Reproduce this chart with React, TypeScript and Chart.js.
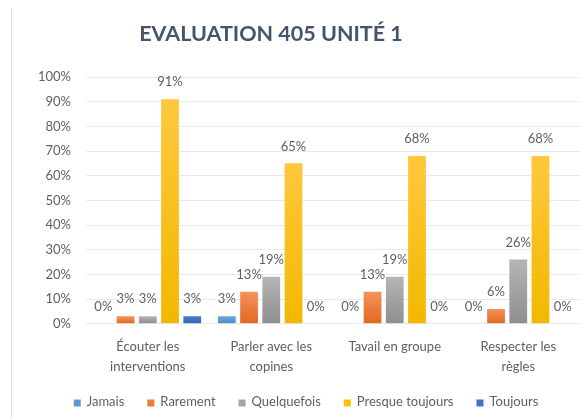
import React, { useEffect, useRef } from "react";
import { Chart, registerables } from "chart.js";

Chart.register(...registerables);

const titleText = "EVALUATION 405 UNITÉ 1";
const categories: (string | string[])[] = [
  ["Écouter les", "interventions"],
  ["Parler avec les", "copines"],
  "Tavail en groupe",
  ["Respecter les", "règles"],
];
const seriesNames = ["Jamais", "Rarement", "Quelquefois", "Presque toujours", "Toujours"];
const jamais = [0, 3, 0, 0];
const rarement = [3, 13, 13, 6];
const quelquefois = [3, 19, 19, 26];
const presqueToujours = [91, 65, 68, 68];
const toujours = [3, 0, 0, 0];
const yTickValues = [0, 10, 20, 30, 40, 50, 60, 70, 80, 90, 100];

const seriesValues = [jamais, rarement, quelquefois, presqueToujours, toujours];
const seriesColors = [
  { top: "#6AA6DE", bottom: "#4A8CCB", solid: "#5B9BD5" },
  { top: "#F4935C", bottom: "#E2681F", solid: "#ED7D31" },
  { top: "#B5B5B5", bottom: "#8E8E8E", solid: "#A5A5A5" },
  { top: "#FFC83C", bottom: "#F2B800", solid: "#FFC000" },
  { top: "#4F7DCC", bottom: "#3661B2", solid: "#4472C4" },
];

const FONT = "Lato, 'Open Sans', 'DejaVu Sans', sans-serif";
const TEXT = "#5B5F66";

const labelsPlugin = {
  id: "valueLabels",
  afterDatasetsDraw(chart: any) {
    const ctx = chart.ctx;
    ctx.save();
    ctx.font = `13px ${FONT}`;
    ctx.fillStyle = TEXT;
    ctx.textAlign = "center";
    ctx.textBaseline = "middle";
    chart.data.datasets.forEach((ds: any, i: number) => {
      const meta = chart.getDatasetMeta(i);
      meta.data.forEach((el: any, j: number) => {
        ctx.fillText(`${ds.data[j]}%`, el.x, el.y - 17);
      });
    });
    ctx.restore();
  },
};

const decorPlugin = {
  id: "decor",
  afterDraw(chart: any) {
    const ctx = chart.ctx;
    ctx.save();
    // title
    ctx.font = `bold 21.5px ${FONT}`;
    ctx.fillStyle = "#44546A";
    ctx.textAlign = "center";
    ctx.textBaseline = "middle";
    ctx.fillText(titleText, 271, 34);
    // legend
    ctx.font = `13px ${FONT}`;
    const box = 7;
    const gap = 6;
    const spacing = 23;
    const widths = seriesNames.map((n) => box + gap + ctx.measureText(n).width);
    const total = widths.reduce((a, b) => a + b, 0) + spacing * (widths.length - 1);
    let x = 306 - total / 2;
    const y = 402;
    ctx.textAlign = "left";
    seriesNames.forEach((n, i) => {
      ctx.fillStyle = seriesColors[i].solid;
      ctx.fillRect(x, y - box / 2 + 1, box, box);
      ctx.fillStyle = TEXT;
      ctx.fillText(n, x + box + gap, y);
      x += widths[i] + spacing;
    });
    ctx.restore();
  },
};

export default function App() {
  const ref = useRef<HTMLCanvasElement>(null);
  useEffect(() => {
    if (!ref.current) return;
    const chart = new Chart(ref.current, {
      type: "bar",
      data: {
        labels: categories,
        datasets: seriesNames.map((name, i) => ({
          label: name,
          data: seriesValues[i],
          backgroundColor: (c: any) => {
            const ch = c.chart;
            const ys = ch.scales?.y;
            const v = c.raw;
            if (!ys || typeof v !== "number" || !ch.chartArea) return seriesColors[i].solid;
            const top = ys.getPixelForValue(v);
            const bottom = ys.getPixelForValue(0);
            if (!isFinite(top) || !isFinite(bottom) || bottom - top < 1) return seriesColors[i].solid;
            const g = ch.ctx.createLinearGradient(0, top, 0, bottom);
            g.addColorStop(0, seriesColors[i].top);
            g.addColorStop(1, seriesColors[i].bottom);
            return g;
          },
          borderWidth: 0,
          categoryPercentage: 0.9,
          barPercentage: 0.8,
        })),
      },
      options: {
        animation: false,
        responsive: false,
        maintainAspectRatio: false,
        layout: { padding: { left: 23, right: 7, top: 77, bottom: 37 } },
        plugins: {
          legend: { display: false },
          title: { display: false },
          tooltip: { enabled: false },
        },
        scales: {
          x: {
            grid: { display: false },
            border: { display: false },
            ticks: {
              color: TEXT,
              font: { family: FONT, size: 13, lineHeight: 1.55 },
              padding: 5,
              maxRotation: 0,
              autoSkip: false,
            },
          },
          y: {
            min: 0,
            max: 100,
            afterBuildTicks: (axis: any) => {
              axis.ticks = yTickValues.map((v) => ({ value: v }));
            },
            grid: { color: "#E7EAEF", lineWidth: 1, drawTicks: false },
            border: { display: false },
            ticks: {
              color: TEXT,
              font: { family: FONT, size: 13 },
              padding: 15,
              callback: (v: any) => `${v}%`,
            },
          },
        },
      },
      plugins: [labelsPlugin, decorPlugin],
    });
    return () => chart.destroy();
  }, []);

  return (
    <div style={{ position: "absolute", left: 0, top: 0, width: 587, height: 419, background: "#fff" }}>
      <div style={{ position: "absolute", left: 11, top: 8, width: 1, bottom: 0, background: "#DCDFE3" }} />
      <canvas ref={ref} width={587} height={419} style={{ position: "absolute", left: 0, top: 0, width: 587, height: 419 }} />
    </div>
  );
}
